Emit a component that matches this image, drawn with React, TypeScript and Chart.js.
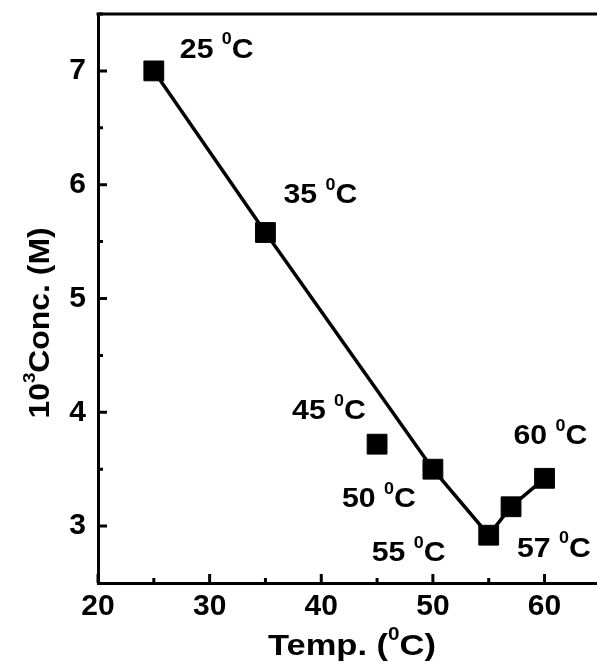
import React, { useEffect, useRef } from "react";
import { Chart, registerables } from "chart.js";

Chart.register(...registerables);

// ---- data ----
const temps = [25, 35, 45, 50, 55, 57, 60];
const conc = [7.0, 5.58, 3.72, 3.5, 2.92, 3.17, 3.42];
const lineTemps = [25, 35, 50, 55, 57, 60];
const lineConc = [7.0, 5.58, 3.5, 2.92, 3.17, 3.42];
const xTicks = [20, 30, 40, 50, 60];
const yTicks = [3, 4, 5, 6, 7];
const xMinor = [25, 35, 45, 55];
const yMinor = [3.5, 4.5, 5.5, 6.5, 7.5];
const pointLabels = ["25", "35", "45", "50", "55", "57", "60"];

// ---- styling (label placement in px relative to marker centre) ----
const labelOffsets = [
  [26, -13],
  [18, -29],
  [-85, -25],
  [-91, 38],
  [-117, 26],
  [6, 50],
  [-31, -34],
];
const FONT = "'Liberation Sans', Arial, sans-serif";

type Part = { t: string; sup?: boolean };

function drawRich(
  ctx: CanvasRenderingContext2D,
  parts: Part[],
  x: number,
  y: number,
  size: number,
  weight: string,
  align: "left" | "center",
  sx = 1
) {
  const supSize = Math.round(size * 0.6);
  const widths = parts.map((p) => {
    ctx.font = `${weight} ${p.sup ? supSize : size}px ${FONT}`;
    return ctx.measureText(p.t).width;
  });
  const total = widths.reduce((a, b) => a + b, 0);
  const x0 = align === "center" ? x - (total * sx) / 2 : x;
  ctx.save();
  ctx.translate(x0, y);
  ctx.scale(sx, 1);
  ctx.textAlign = "left";
  ctx.textBaseline = "alphabetic";
  let cx = 0;
  parts.forEach((p, i) => {
    ctx.font = `${weight} ${p.sup ? supSize : size}px ${FONT}`;
    ctx.fillText(p.t, cx, p.sup ? -size * 0.5 : 0);
    cx += widths[i];
  });
  ctx.restore();
}

const decorPlugin = {
  id: "decor",
  afterDraw(chart: any) {
    const ctx: CanvasRenderingContext2D = chart.ctx;
    const { left, right, top, bottom } = chart.chartArea;
    const xs = chart.scales.x;
    const ys = chart.scales.y;
    ctx.save();
    ctx.strokeStyle = "#000";
    ctx.fillStyle = "#000";
    ctx.lineWidth = 3;
    // top frame line
    ctx.beginPath();
    ctx.moveTo(left - 1.5, top);
    ctx.lineTo(right, top);
    ctx.stroke();
    // inward ticks
    ctx.beginPath();
    xTicks.forEach((v) => {
      const px = xs.getPixelForValue(v);
      ctx.moveTo(px, bottom);
      ctx.lineTo(px, bottom - 9);
    });
    xMinor.forEach((v) => {
      const px = xs.getPixelForValue(v);
      ctx.moveTo(px, bottom);
      ctx.lineTo(px, bottom - 5);
    });
    yTicks.forEach((v) => {
      const py = ys.getPixelForValue(v);
      ctx.moveTo(left, py);
      ctx.lineTo(left + 9, py);
    });
    yMinor.forEach((v) => {
      const py = ys.getPixelForValue(v);
      ctx.moveTo(left, py);
      ctx.lineTo(left + 5, py);
    });
    ctx.stroke();

    // point labels
    temps.forEach((t, i) => {
      const px = xs.getPixelForValue(t);
      const py = ys.getPixelForValue(conc[i]);
      const [dx, dy] = labelOffsets[i];
      drawRich(ctx, [{ t: pointLabels[i] + " " }, { t: "0", sup: true }, { t: "C" }], px + dx, py + dy, 27, "bold", "left", 1.12);
    });

    // x title
    drawRich(ctx, [{ t: "Temp. (" }, { t: "0", sup: true }, { t: "C)" }], 352, 655, 30, "bold", "center", 1.15);

    // y title (rotated)
    ctx.save();
    ctx.translate(49, 323);
    ctx.rotate(-Math.PI / 2);
    drawRich(ctx, [{ t: "10" }, { t: "3", sup: true }, { t: "Conc. (M)" }], 0, 0, 29, "bold", "center", 1.1);
    ctx.restore();

    ctx.restore();
  },
};

function noPad(s: any) {
  s.paddingTop = 0;
  s.paddingBottom = 0;
  s.paddingLeft = 0;
  s.paddingRight = 0;
}

export default function App() {
  const ref = useRef<HTMLCanvasElement | null>(null);
  useEffect(() => {
    document.body.style.margin = "0";
    const canvas = ref.current!;
    const chart = new Chart(canvas, {
      type: "scatter",
      data: {
        datasets: [
          {
            data: temps.map((t, i) => ({ x: t, y: conc[i] })),
            pointStyle: "rect",
            pointRadius: 14,
            backgroundColor: "#000",
            borderColor: "#000",
            borderWidth: 1,
            showLine: false,
            order: 1,
          },
          {
            data: lineTemps.map((t, i) => ({ x: t, y: lineConc[i] })),
            showLine: true,
            borderColor: "#000",
            borderWidth: 3.5,
            pointRadius: 0,
            fill: false,
            order: 2,
          },
        ],
      },
      options: {
        animation: false,
        responsive: false,
        devicePixelRatio: 1,
        layout: { autoPadding: false, padding: { top: 14, left: 0, right: 0, bottom: 0 } },
        plugins: { legend: { display: false }, tooltip: { enabled: false } },
        scales: {
          x: {
            type: "linear",
            min: 20,
            max: 64.7,
            afterBuildTicks: (s: any) => {
              s.ticks = xTicks.map((v) => ({ value: v }));
            },
            afterFit: (s: any) => {
              s.height = 83;
              noPad(s);
            },
            grid: { display: false, drawTicks: false },
            border: { display: true, color: "#000", width: 3 },
            ticks: { color: "#000", font: { family: FONT, size: 30, weight: "bold" }, padding: 6, maxRotation: 0 },
          },
          y: {
            type: "linear",
            min: 2.5,
            max: 7.5,
            afterBuildTicks: (s: any) => {
              s.ticks = yTicks.map((v) => ({ value: v }));
            },
            afterFit: (s: any) => {
              s.width = 98;
              noPad(s);
            },
            grid: { display: false, drawTicks: false },
            border: { display: true, color: "#000", width: 3 },
            ticks: { color: "#000", font: { family: FONT, size: 30, weight: "bold" }, padding: 12 },
          },
        },
      },
      plugins: [decorPlugin],
    } as any);
    return () => chart.destroy();
  }, []);
  return <canvas ref={ref} width={597} height={666} style={{ display: "block" }} />;
}
